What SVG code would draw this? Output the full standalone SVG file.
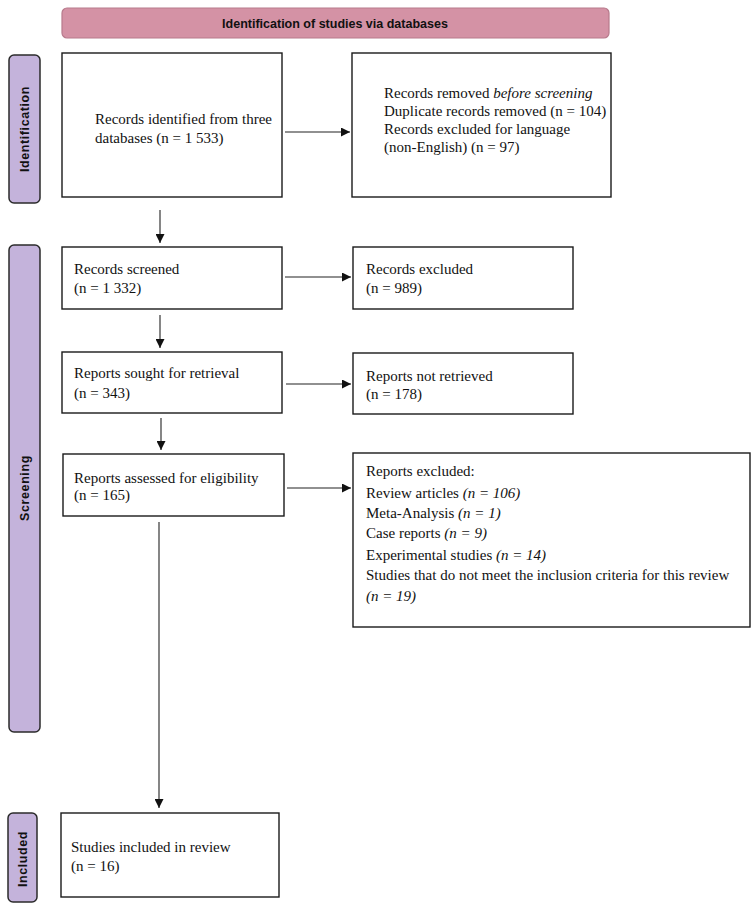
<svg xmlns="http://www.w3.org/2000/svg" width="752" height="911" viewBox="0 0 752 911">
<style>
.box{fill:#fff;stroke:#1a1a1a;stroke-width:1.4}
.side{fill:#C4B3DB;stroke:#2b2b2b;stroke-width:1.5}
.hdr{fill:#D492A5;stroke:#B77A8C;stroke-width:1.2}
.t{font-family:"Liberation Serif",serif;font-size:15px;fill:#111}
.it{font-style:italic}
.lab{font-family:"Liberation Sans",Arial,sans-serif;font-weight:bold;font-size:12.5px;fill:#111}
.con{stroke:#222;stroke-width:1.1;fill:none}
</style>
<defs>
<marker id="ah" viewBox="0 0 10 10" refX="10" refY="5" markerWidth="9" markerHeight="9" markerUnits="userSpaceOnUse" orient="auto">
<path d="M0,0 L10,5 L0,10 z" fill="#111"/>
</marker>
</defs>
<g id="header">
<rect class="hdr" x="62" y="8" width="547" height="30" rx="5"/>
<text class="lab" x="335" y="28" text-anchor="middle" font-size="13.8">Identification of studies via databases</text>
</g>
<g id="side-identification">
<rect class="side" x="9" y="55" width="31" height="148" rx="5"/>
<text class="lab" transform="translate(29,129) rotate(-90)" text-anchor="middle" letter-spacing="0.6">Identification</text>
</g>
<g id="side-screening">
<rect class="side" x="9" y="245" width="31" height="487" rx="5"/>
<text class="lab" transform="translate(29,488) rotate(-90)" text-anchor="middle" letter-spacing="0.6">Screening</text>
</g>
<g id="side-included">
<rect class="side" x="8" y="813" width="29" height="89" rx="5"/>
<text class="lab" transform="translate(27,859) rotate(-90)" text-anchor="middle" letter-spacing="0.6">Included</text>
</g>
<g id="n-identified">
<rect class="box" x="62" y="53" width="220" height="144"/>
<text class="t" x="95" y="124">Records identified from three</text>
<text class="t" x="95" y="143">databases  (n = 1 533)</text>
</g>
<g id="n-removed">
<rect class="box" x="352" y="53" width="259" height="144"/>
<text class="t" x="384" y="98">Records removed <tspan class="it">before screening</tspan></text>
<text class="t" x="384" y="116">Duplicate records removed (n = 104)</text>
<text class="t" x="384" y="134">Records excluded for language</text>
<text class="t" x="384" y="152">(non-English) (n = 97)</text>
</g>
<g id="n-screened">
<rect class="box" x="62" y="247" width="220" height="62"/>
<text class="t" x="74" y="274">Records screened</text>
<text class="t" x="74" y="293">(n = 1 332)</text>
</g>
<g id="n-excluded">
<rect class="box" x="353" y="247" width="220" height="62"/>
<text class="t" x="366" y="274">Records excluded</text>
<text class="t" x="366" y="293">(n = 989)</text>
</g>
<g id="n-sought">
<rect class="box" x="62" y="352" width="220" height="61"/>
<text class="t" x="74" y="378">Reports sought for retrieval</text>
<text class="t" x="74" y="398">(n = 343)</text>
</g>
<g id="n-notretrieved">
<rect class="box" x="353" y="353" width="220" height="61"/>
<text class="t" x="366" y="381">Reports not retrieved</text>
<text class="t" x="366" y="399">(n = 178)</text>
</g>
<g id="n-assessed">
<rect class="box" x="63" y="454" width="221" height="62"/>
<text class="t" x="74" y="483">Reports assessed for eligibility</text>
<text class="t" x="74" y="500">(n = 165)</text>
</g>
<g id="n-reportsexcluded">
<rect class="box" x="353" y="453" width="397" height="174"/>
<text class="t" x="366" y="476">Reports excluded:</text>
<text class="t" x="366" y="498">Review articles <tspan class="it">(n = 106)</tspan></text>
<text class="t" x="366" y="518">Meta-Analysis <tspan class="it">(n = 1)</tspan></text>
<text class="t" x="366" y="538">Case reports <tspan class="it">(n = 9)</tspan></text>
<text class="t" x="366" y="560">Experimental studies <tspan class="it">(n = 14)</tspan></text>
<text class="t" x="366" y="580" font-size="14.7">Studies that do not meet the inclusion criteria for this review</text>
<text class="t it" x="366" y="601">(n = 19)</text>
</g>
<g id="n-included">
<rect class="box" x="61" y="813" width="218" height="84"/>
<text class="t" x="71" y="852">Studies included in review</text>
<text class="t" x="71" y="871">(n = 16)</text>
</g>
<g id="connectors">
<line class="con" x1="285" y1="132" x2="350" y2="132" marker-end="url(#ah)"/>
<line class="con" x1="160" y1="210" x2="160" y2="243" marker-end="url(#ah)"/>
<line class="con" x1="285" y1="277" x2="351" y2="277" marker-end="url(#ah)"/>
<line class="con" x1="160" y1="315" x2="160" y2="348" marker-end="url(#ah)"/>
<line class="con" x1="286" y1="384" x2="351" y2="384" marker-end="url(#ah)"/>
<line class="con" x1="161" y1="418" x2="161" y2="450" marker-end="url(#ah)"/>
<line class="con" x1="287" y1="488" x2="351" y2="488" marker-end="url(#ah)"/>
<line class="con" x1="159" y1="522" x2="159" y2="808" marker-end="url(#ah)"/>
</g>
</svg>
